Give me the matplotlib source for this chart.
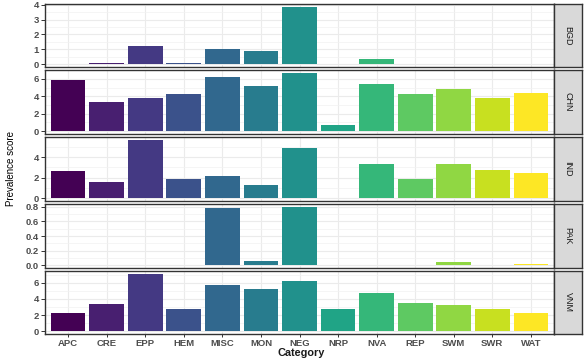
import numpy as np
import matplotlib
matplotlib.use("Agg")
import matplotlib.pyplot as plt
from matplotlib.ticker import MultipleLocator

plt.rcParams['font.family'] = ['Liberation Sans', 'DejaVu Sans']

categories = ["APC", "CRE", "EPP", "HEM", "MISC", "MON", "NEG",
              "NRP", "NVA", "REP", "SWM", "SWR", "WAT"]
countries = ["BGD", "CHN", "IND", "PAK", "VNM"]

# prevalence scores per country (None = no bar)
bgd = [None, 0.1, 1.2, 0.1, 1.0, 0.85, 3.85, None, 0.35, None, None, None, None]
chn = [5.85, 3.3, 3.85, 4.3, 6.2, 5.2, 6.7, 0.65, 5.4, 4.3, 4.9, 3.8, 4.4]
ind = [2.65, 1.6, 5.7, 1.85, 2.2, 1.25, 4.95, None, 3.35, 1.85, 3.35, 2.75, 2.5]
pak = [None, None, None, None, 0.79, 0.05, 0.8, None, None, None, 0.04, None, 0.02]
vnm = [2.3, 3.4, 7.1, 2.7, 5.7, 5.2, 6.2, 2.7, 4.7, 3.5, 3.3, 2.8, 2.3]

values = [bgd, chn, ind, pak, vnm]
major_step = [1, 2, 2, 0.2, 2]

W, H = 585, 359
fig = plt.figure(figsize=(W / 100, H / 100), dpi=100)

colors = plt.cm.viridis(np.linspace(0, 1, len(categories)))

# panel pixel extents (top, bottom)
panels = [(4, 67), (70, 134), (137, 201), (204, 268), (271, 334)]
left, right, strip_r = 45, 554, 582

x = np.arange(len(categories))
border = "#333333"

for i, (name, vals) in enumerate(zip(countries, values)):
    top, bot = panels[i]
    ax = fig.add_axes([left / W, 1 - bot / H, (right - left) / W, (bot - top) / H])
    v = np.array([np.nan if a is None else a for a in vals], dtype=float)
    mask = ~np.isnan(v)
    ax.bar(x[mask], v[mask], width=0.9, color=colors[mask], zorder=3)
    vmax = np.nanmax(v)
    ax.set_ylim(-0.05 * vmax, 1.05 * vmax)
    ax.set_xlim(-0.6, len(categories) - 0.4)
    step = major_step[i]
    ax.yaxis.set_major_locator(MultipleLocator(step))
    ax.yaxis.set_minor_locator(MultipleLocator(step / 2))
    ax.set_xticks(x)
    ax.grid(which="major", color="#EBEBEB", linewidth=0.8, zorder=0)
    ax.grid(which="minor", axis="y", color="#F2F2F2", linewidth=0.5, zorder=0)
    for s in ax.spines.values():
        s.set_color(border)
        s.set_linewidth(1.0)
    ax.tick_params(axis="y", which="major", length=3, width=0.7, color=border,
                   labelsize=6.8, labelcolor="#4D4D4D", pad=1.5)
    ax.tick_params(axis="y", which="minor", length=0)
    if step < 1:
        ax.set_yticklabels([f"{t:.1f}" for t in ax.get_yticks()])
    for lab in ax.get_yticklabels():
        lab.set_fontweight("bold")
    if i < len(countries) - 1:
        ax.tick_params(axis="x", length=0, labelbottom=False)
    else:
        ax.tick_params(axis="x", length=2.5, width=0.7, color=border,
                       labelsize=6.8, labelcolor="#4D4D4D", pad=1)
        ax.set_xticklabels(categories, fontweight="bold")

    # strip on the right
    sax = fig.add_axes([right / W, 1 - bot / H, (strip_r - right) / W, (bot - top) / H])
    sax.set_facecolor("#D9D9D9")
    sax.set_xticks([])
    sax.set_yticks([])
    for s in sax.spines.values():
        s.set_color(border)
        s.set_linewidth(1.0)
    sax.text(0.5, 0.5, name, rotation=-90, ha="center", va="center",
             fontsize=6.5, color="#1A1A1A", transform=sax.transAxes)

fig.text(301 / W, 1 - 353.5 / H, "Category", ha="center", va="center",
         fontsize=7.8, fontweight="bold", color="#1A1A1A")
fig.text(11 / W, 1 - 168 / H, "Prevalence score", rotation=90, ha="center",
         va="center", fontsize=7, color="black")

fig.savefig("out.png", dpi=100)
